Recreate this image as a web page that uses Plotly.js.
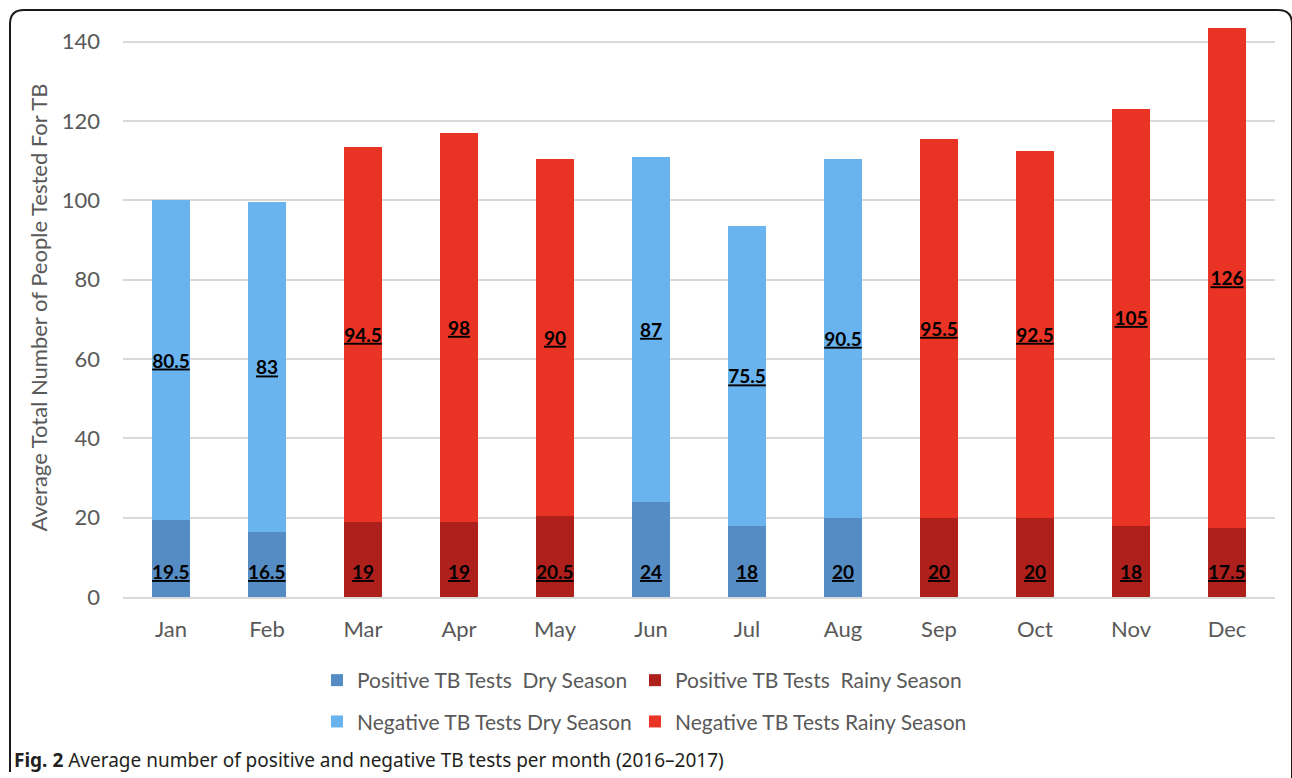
<!DOCTYPE html>
<html>
<head>
<meta charset="utf-8">
<script src="https://cdn.plot.ly/plotly-3.0.1.min.js"></script>
<style>
html,body{margin:0;padding:0;background:#fff;}
#chart{width:1292px;height:778px;}
</style>
</head>
<body>
<div id="chart"></div>
<script>
const months = ["Jan","Feb","Mar","Apr","May","Jun","Jul","Aug","Sep","Oct","Nov","Dec"];
const positiveDry   = [19.5, 16.5, null, null, null, 24, 18, 20, null, null, null, null];
const positiveRainy = [null, null, 19, 19, 20.5, null, null, null, 20, 20, 18, 17.5];
const negativeDry   = [80.5, 83, null, null, null, 87, 75.5, 90.5, null, null, null, null];
const negativeRainy = [null, null, 94.5, 98, 90, null, null, null, 95.5, 92.5, 105, 126];
const seriesNames = [
  "Positive TB Tests\u00a0 Dry Season",
  "Positive TB Tests\u00a0 Rainy Season",
  "Negative TB Tests Dry Season",
  "Negative TB Tests Rainy Season"
];
const yTitle = "Average Total Number of People Tested For TB";
const captionBold = "Fig. 2";
const captionText = " Average number of positive and negative TB tests per month (2016\u20132017)";

const fontFam = "Lato, 'Open Sans', sans-serif";
const ulStyle = "text-decoration:underline;text-decoration-style:dotted;text-decoration-thickness:2px";
const labelFmt = v => v == null ? "" : "<span style='" + ulStyle + "'>" + v + "</span>";
const labelFont = {family: fontFam, size: 19, color: "#000", weight: "bold"};

function barTrace(vals, name, color, legend, withText) {
  const t = {
    type: "bar", x: months, y: vals, name: name,
    marker: {color: color},
    legend: legend,
    legendgroup: name,
    hoverinfo: "x+y+name"
  };
  if (withText) {
    t.text = vals.map(labelFmt);
    t.textposition = "inside";
    t.insidetextanchor = "middle";
    t.constraintext = "none";
    t.textangle = 0;
    t.textfont = labelFont;
  }
  return t;
}

const traces = [
  barTrace(positiveDry, seriesNames[0], "#568cc4", "legend", false),
  barTrace(positiveRainy, seriesNames[1], "#ae201b", "legend2", false),
  barTrace(negativeDry, seriesNames[2], "#69b3ee", "legend", true),
  barTrace(negativeRainy, seriesNames[3], "#e93324", "legend2", true)
];

// layout geometry (pixels)
const W = 1292, H = 778, L = 123, R = 1275, T = 18, B = 597;
const pw = R - L, ph = B - T;
const px = x => (x - L) / pw;
const py = y => (B - y) / ph;
const P = (x, y) => px(x) + "," + py(y);

const framePath = "M" + P(10, 772) + " L" + P(10, 24) + " Q" + P(10, 10) + " " + P(24, 10) +
  " L" + P(1278, 10) + " Q" + P(1292, 10) + " " + P(1292, 24) + " L" + P(1292, 778);

// positive-test labels sit near the base of each bar
const positiveLabels = [];
months.forEach((m, i) => {
  const v = positiveDry[i] != null ? positiveDry[i] : positiveRainy[i];
  if (v != null) {
    positiveLabels.push({
      xref: "x", yref: "y", x: m, y: 0, yanchor: "bottom", xanchor: "center",
      yshift: 12, showarrow: false, text: labelFmt(v), font: labelFont
    });
  }
});

const legendFont = {family: fontFam, size: 21, color: "#595959"};

const layout = {
  width: W, height: H,
  margin: {l: L, r: W - R, t: T, b: H - B},
  paper_bgcolor: "#fff", plot_bgcolor: "#fff",
  barmode: "stack",
  bargap: 0.6,
  font: {family: fontFam, color: "#595959"},
  xaxis: {
    type: "category",
    tickfont: {family: fontFam, size: 22, color: "#595959"},
    showgrid: false,
    showline: true, linecolor: "#d9d9d9", linewidth: 2,
    ticks: "", ticklabelstandoff: 12,
    fixedrange: true
  },
  yaxis: {
    range: [0, 146],
    dtick: 20, tick0: 0,
    tickfont: {family: fontFam, size: 22, color: "#595959"},
    gridcolor: "#d9d9d9", gridwidth: 2,
    zeroline: false,
    ticks: "", ticklabelstandoff: 22,
    title: {text: yTitle, font: {family: fontFam, size: 22, color: "#595959"}, standoff: 8},
    fixedrange: true
  },
  showlegend: true,
  legend: {
    x: px(317), y: py(660), xanchor: "left", yanchor: "top",
    orientation: "v", font: legendFont, tracegroupgap: 11,
    itemwidth: 30, bgcolor: "rgba(0,0,0,0)", traceorder: "grouped"
  },
  legend2: {
    x: px(635), y: py(660), xanchor: "left", yanchor: "top",
    orientation: "v", font: legendFont, tracegroupgap: 11,
    itemwidth: 30, bgcolor: "rgba(0,0,0,0)", traceorder: "grouped"
  },
  shapes: [{
    type: "path", xref: "paper", yref: "paper", path: framePath,
    line: {color: "#1a1a1a", width: 2}, layer: "above"
  }],
  annotations: positiveLabels.concat([{
    xref: "paper", yref: "paper", x: px(12), y: py(760),
    xanchor: "left", yanchor: "middle", showarrow: false,
    text: "<b>" + captionBold + "</b>" + captionText,
    font: {family: "'Noto Sans', 'Open Sans', sans-serif", size: 19, color: "#231f20"}
  }])
};

Plotly.newPlot("chart", traces, layout, {displayModeBar: false, staticPlot: true});
</script>
</body>
</html>
